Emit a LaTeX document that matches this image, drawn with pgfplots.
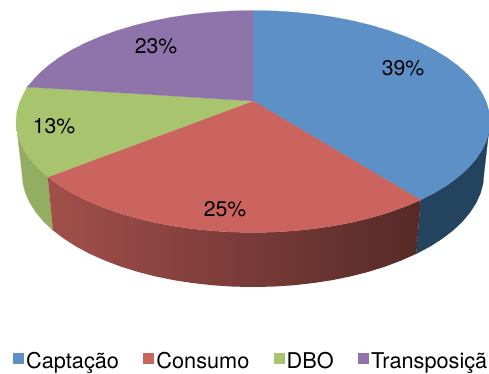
\documentclass[border=0pt]{standalone}
\usepackage{fontspec}
\setmainfont{TeX Gyre Heros}
\usepackage{pgfplots}
\pgfplotsset{compat=1.18}
\definecolor{capt}{HTML}{5C90C7}
\definecolor{cons}{HTML}{CB635E}
\definecolor{dbo}{HTML}{A9C46F}
\definecolor{trans}{HTML}{8F74AB}
\definecolor{captside}{HTML}{24435F}
\definecolor{dboside}{HTML}{93AD62}
\begin{document}
\begin{tikzpicture}
\useasboundingbox (0,0) rectangle (489bp,374bp);
\begin{axis}[
  at={(0,0)}, anchor=south west,
  scale only axis, width=489bp, height=374bp,
  xmin=0, xmax=489, ymin=0, ymax=374, y dir=reverse,
  hide axis,
  legend columns=4,
  legend image code/.code={\path[#1] (0bp,-2.5bp) rectangle (10bp,7.5bp);},
  legend style={
    at={(axis cs:13,361)}, anchor=west, draw=none, fill=none,
    inner sep=0pt, outer sep=0pt,
    font=\fontsize{21.8}{25}\selectfont,
    /tikz/every odd column/.append style={column sep=1bp},
    /tikz/every even column/.append style={column sep=22.2bp},
  },
]
% Rim of the Captação slice
\addplot[fill=captside, draw=captside, line width=0.2pt, forget plot] coordinates {
 (420.6,200) (434.5,192.9) (447.2,185.2) (458.2,177) (467.8,168.4) (475.7,159.5)
 (481.9,150.2) (486.4,140.8) (489.1,131.2) (490,121.5)
 (484,173.5) (483.1,183.4) (480.5,193.2) (476.1,202.9) (470.1,212.3) (462.4,221.5)
 (453.1,230.3) (442.2,238.6) (429.9,246.5) (416.3,253.8)} -- cycle;
% Rim of the DBO slice
\addplot[fill=dboside, draw=dboside, line width=0.2pt, forget plot] coordinates {
 (47.8,177) (38.2,168.4) (30.3,159.5) (24.1,150.2) (19.6,140.8) (16.9,131.2) (16,121.5)
 (22,173.5) (22.9,183.4) (25.5,193.2) (29.9,202.9) (35.9,212.3) (43.6,221.5) (52.9,230.3)} -- cycle;
% Rim of the Consumo slice, darkening towards the right
\addplot[left color=cons!80!black, middle color=cons!66!black, right color=cons!42!black, draw=none, forget plot] coordinates {
 (420.6,200) (405.3,206.5) (388.9,212.4) (371.5,217.6) (353.2,222.1) (334.1,225.8)
 (314.3,228.7) (294.1,230.8) (273.7,232.1) (253,232.5) (232.3,232.1) (211.9,230.8)
 (191.7,228.7) (171.9,225.8) (152.8,222.1) (134.5,217.6) (117.1,212.4) (100.7,206.5)
 (85.4,200) (71.5,192.9) (58.8,185.2) (47.8,177)
 (52.9,230.3) (63.8,238.6) (76.1,246.5) (89.7,253.8) (104.5,260.4) (120.5,266.5)
 (137.5,271.8) (155.4,276.4) (174,280.2) (193.2,283.1) (212.9,285.3) (232.9,286.6)
 (253,287) (273.1,286.6) (293.1,285.3) (312.8,283.1) (332,280.2) (350.6,276.4)
 (368.5,271.8) (385.5,266.5) (401.5,260.4) (416.3,253.8)} -- cycle;
% Top faces
\addplot[fill=capt, draw=capt, line width=0.2pt] coordinates {
 (253,101) (253,10.5) (273.7,10.9) (294.1,12.2) (314.3,14.3) (334.1,17.2) (353.2,20.9)
 (371.5,25.4) (388.9,30.6) (405.3,36.5) (420.6,43) (434.5,50.1) (447.2,57.8) (458.2,66)
 (467.8,74.6) (475.7,83.5) (481.9,92.8) (486.4,102.2) (489.1,111.8) (490,121.5)
 (489.1,131.2) (486.4,140.8) (481.9,150.2) (475.7,159.5) (467.8,168.4) (458.2,177)
 (447.2,185.2) (434.5,192.9) (420.6,200)} -- cycle;
\addlegendentry{Captação}
\addplot[fill=cons, draw=cons, line width=0.2pt] coordinates {
 (253,101) (420.6,200) (405.3,206.5) (388.9,212.4) (371.5,217.6) (353.2,222.1)
 (334.1,225.8) (314.3,228.7) (294.1,230.8) (273.7,232.1) (253,232.5) (232.3,232.1)
 (211.9,230.8) (191.7,228.7) (171.9,225.8) (152.8,222.1) (134.5,217.6) (117.1,212.4)
 (100.7,206.5) (85.4,200) (71.5,192.9) (58.8,185.2) (47.8,177)} -- cycle;
\addlegendentry{Consumo}
\addplot[fill=dbo, draw=dbo, line width=0.2pt] coordinates {
 (253,101) (47.8,177) (38.2,168.4) (30.3,159.5) (24.1,150.2) (19.6,140.8) (16.9,131.2)
 (16,121.5) (16.9,111.8) (19.6,102.2) (24.1,92.8) (27,87)} -- cycle;
\addlegendentry{DBO}
\addplot[fill=trans, draw=trans, line width=0.2pt] coordinates {
 (253,101) (27,87) (30.3,83.5) (38.2,74.6) (47.8,66) (58.8,57.8) (71.5,50.1) (85.4,43)
 (100.7,36.5) (117.1,30.6) (134.5,25.4) (152.8,20.9) (171.9,17.2) (191.7,14.3)
 (211.9,12.2) (232.3,10.9) (253,10.5)} -- cycle;
\addlegendentry{Transposiçã}
% Share labels
\node[font=\fontsize{21.3}{25}\selectfont] at (axis cs:403,68.5) {39\%};
\node[font=\fontsize{21.3}{25}\selectfont] at (axis cs:225,209) {25\%};
\node[font=\fontsize{21.3}{25}\selectfont] at (axis cs:54,126.5) {13\%};
\node[font=\fontsize{21.3}{25}\selectfont] at (axis cs:156,46) {23\%};
\end{axis}
\end{tikzpicture}
\end{document}
